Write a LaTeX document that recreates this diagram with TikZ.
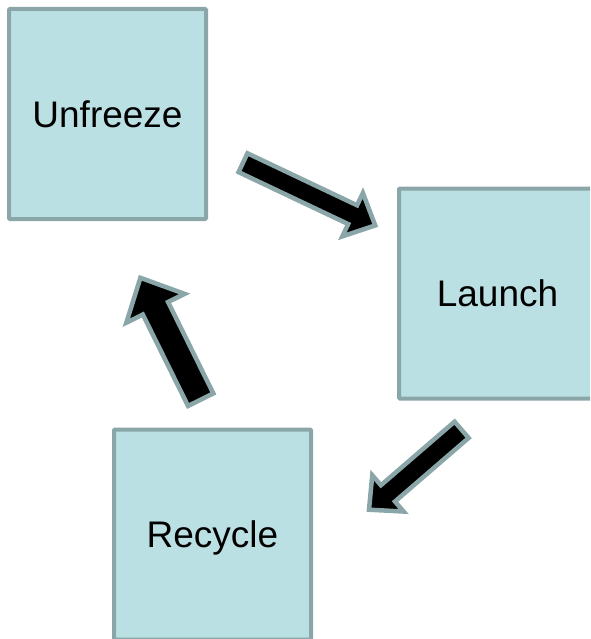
\documentclass[tikz,border=0pt]{standalone}
\usepackage{fontspec}
\setmainfont{Liberation Sans}
\usetikzlibrary{calc}
\definecolor{boxfill}{RGB}{187,224,228}
\definecolor{boxline}{RGB}{139,166,168}
\tikzset{
  stagebox/.style={draw=boxline, fill=boxfill, line width=4pt, rounded corners=1pt,
    minimum width=197pt, minimum height=210pt, inner sep=0pt,
    text height=26.5pt, text depth=0pt,
    font=\fontsize{37}{44}\selectfont},
  blockarrow/.style={draw=boxline, fill=black, line width=4.5pt, line join=miter}
}
\newcommand\blockarr[5]{% #1 tail, #2 tip, #3 half shaft, #4 half head, #5 head length
  \coordinate (#1base) at ($(#2)!#5!(#1)$);
  \draw[blockarrow] ($(#1)!#3!90:(#2)$) -- ($(#1base)!#3!90:(#2)$) -- ($(#1base)!#4!90:(#2)$)
    -- (#2) -- ($(#1base)!#4!-90:(#2)$) -- ($(#1base)!#3!-90:(#2)$) -- ($(#1)!#3!-90:(#2)$) -- cycle;
}
\begin{document}
\begin{tikzpicture}[x=1pt,y=-1pt]
\useasboundingbox (0,0) rectangle (590,639);
\clip (0,0) rectangle (590,639);
\node[stagebox] (unfreeze) at (107.5,114) {Unfreeze};
\node[stagebox] (launch) at (497.5,293.5) {Launch};
\node[stagebox] (recycle) at (212.5,534.5) {Recycle};
% arrows
\coordinate (aonet) at (243,162.7);
\coordinate (aoneh) at (375.2,225.4);
\blockarr{aonet}{aoneh}{10.4pt}{24pt}{25pt}
\coordinate (atwot) at (461.6,429.8);
\coordinate (atwoh) at (369.0,509.7);
\blockarr{atwot}{atwoh}{10.75pt}{24pt}{25pt}
\coordinate (athreet) at (200.7,399.7);
\coordinate (athreeh) at (140.4,277.8);
\blockarr{athreet}{athreeh}{14.1pt}{32.5pt}{34pt}
\end{tikzpicture}
\end{document}
